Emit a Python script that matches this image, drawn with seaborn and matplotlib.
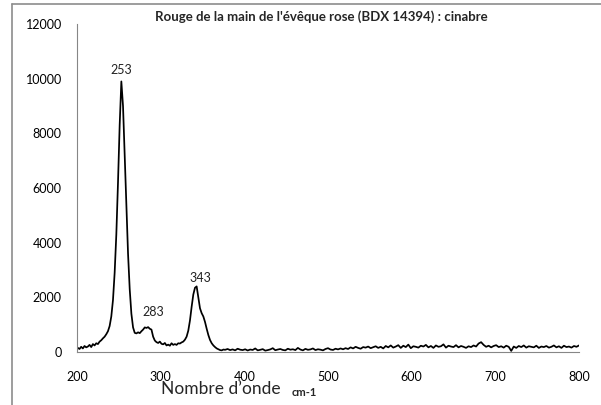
import numpy as np
import pandas as pd
import seaborn as sns
import matplotlib.pyplot as plt
from matplotlib.lines import Line2D

# Raman spectrum
# 201..375 cm-1 every 2 cm-1 (peak region)
head_x = np.arange(201, 376, 2)
head_y = [150, 110, 190, 130, 220, 170, 200, 260, 180, 290,
          240, 320, 290, 380, 430, 500, 560, 650, 760, 950,
          1300, 1900, 2900, 4300, 6200, 8300, 9900, 9000, 7200, 5300,
          3600, 2300, 1400, 900, 700, 680, 720, 690, 760, 820,
          900, 880, 910, 850, 820, 560, 420, 360, 330, 380,
          300, 280, 330, 240, 270, 230, 320, 260, 290, 260,
          320, 310, 350, 380, 450, 560, 780, 1150, 1650, 2100,
          2350, 2400, 2000, 1600, 1420, 1300, 1100, 850, 620, 440,
          320, 240, 180, 130, 100, 70, 60, 90]

# 377..800 cm-1 every 3 cm-1 (baseline)
tail_x = np.arange(377, 801, 3)
tail_y = [80, 110, 70, 95, 60, 120, 85, 70, 100, 55,
          90, 75, 130, 60, 80, 105, 50, 70, 95, 140,
          65, 90, 110, 75, 60, 120, 85, 100, 70, 150,
          90, 60, 115, 80, 95, 130, 70, 100, 85, 60,
          110, 140, 90, 75, 120, 95, 130, 100,
          140, 110, 170, 130, 190, 150, 120, 180, 160, 200,
          140, 175, 210, 150, 190, 130, 220, 170, 240, 160,
          200, 250, 150, 230, 180, 270, 140, 210, 190, 160,
          230, 200, 260, 170, 220, 150, 240, 190, 210, 280,
          160, 230, 200, 180, 250, 170, 220, 190, 150, 210,
          180, 240, 200, 310, 360, 260, 190, 230, 170, 220,
          250, 180, 210, 160, 230, 190, 40, 200, 150, 220,
          180, 240, 160, 210, 190, 170, 230, 150, 200, 180,
          220, 160, 190, 240, 170, 210, 150, 230, 180, 200,
          160, 220, 190, 240]

peak_pos = [253, 291, 348]
peak_lab = ["253", "283", "343"]
peak_txt_y = [10320, 1460, 2700]

xticks = [200, 300, 400, 500, 600, 700, 800]
yticks = [0, 2000, 4000, 6000, 8000, 10000, 12000]

df = pd.DataFrame({"wn": np.concatenate([head_x, tail_x]),
                   "I": head_y + tail_y})

sns.set_style("white")
plt.rcParams['font.family'] = ['Lato', 'DejaVu Sans']

fig = plt.figure(figsize=(6.01, 4.05), dpi=100)
ax = fig.add_axes([77/601, 1-352/405, (579-77)/601, (352-24)/405])

sns.lineplot(data=df, x="wn", y="I", color="black", linewidth=1.25,
             estimator=None, ax=ax)

for p, t, yy in zip(peak_pos, peak_lab, peak_txt_y):
    ax.text(p, yy, t, ha='center', va='center', fontsize=9, color='#222222')

ax.set_xlim(200, 800)
ax.set_ylim(0, 12000)
ax.set_xticks(xticks)
ax.set_yticks(yticks)
ax.tick_params(axis='both', labelsize=9, colors='#868686', labelcolor='black',
               length=5, width=0.8, direction='out')
ax.tick_params(axis='x', pad=9)
ax.tick_params(axis='y', pad=6)
ax.set_xlabel("")
ax.set_ylabel("")
for s in ['top', 'right']:
    ax.spines[s].set_visible(False)
for s in ['left', 'bottom']:
    ax.spines[s].set_color('#868686')
    ax.spines[s].set_linewidth(0.8)

fig.text(321/601, 1-17/405, "Rouge de la main de l'évêque rose (BDX 14394) : cinabre",
         ha='center', va='center', fontsize=9.5, fontweight='bold')
fig.text(161/601, 1-389/405, "Nombre d’onde", ha='left', va='center', fontsize=12.5)
fig.text(292/601, 1-392/405, "cm-1", ha='left', va='center', fontsize=8, fontweight='bold')

# outer chart frame (partly cut off in the original)
fig.add_artist(Line2D([12/601, 12/601], [0, 1-4/405], color='#8c8c8c', lw=1.2))
fig.add_artist(Line2D([12/601, 1], [1-4/405, 1-4/405], color='#8c8c8c', lw=1.2))

fig.savefig("out.png", dpi=100)
